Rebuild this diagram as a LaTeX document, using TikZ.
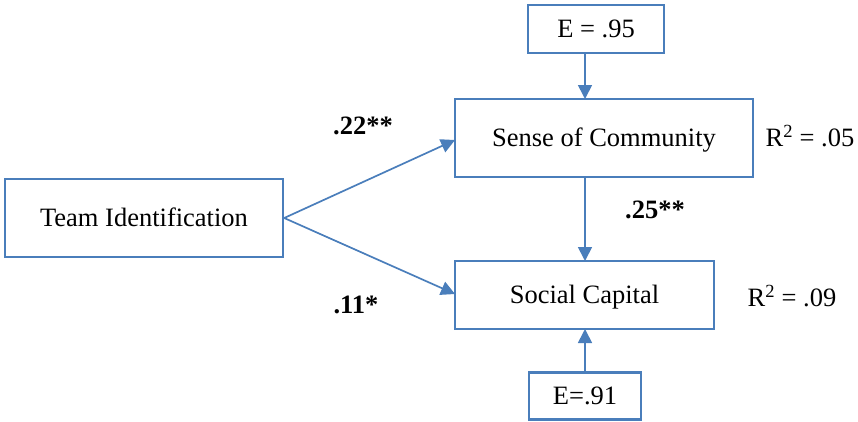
\documentclass[tikz,border=0pt]{standalone}
\usepackage{fontspec}
\setmainfont{Liberation Serif}
\usetikzlibrary{arrows.meta}
\definecolor{wblue}{HTML}{4A7EBB}
\tikzset{
  box/.style={draw=wblue, line width=2.4pt, rectangle, inner sep=0pt, text height=17.5pt, text depth=0pt, font=\fontsize{26.5}{30}\selectfont},
  link/.style={draw=wblue, line width=1.7pt, -{Triangle[length=14pt,width=14pt]}},
  coef/.style={inner sep=0pt, text height=17.5pt, text depth=0pt, font=\fontsize{26.5}{30}\selectfont\bfseries},
  rsq/.style={inner sep=0pt, text height=17.5pt, text depth=0pt, font=\fontsize{26.5}{30}\selectfont},
}
\begin{document}
\begin{tikzpicture}[x=1pt,y=-1pt]
\useasboundingbox (0,0) rectangle (858,421);
\node[box, minimum width=278pt, minimum height=78pt] (team) at (144,218) {Team Identification};
\node[box, minimum width=298pt, minimum height=78pt] (soc) at (604,138) {Sense of Community};
\node[box, minimum width=259pt, minimum height=68pt] (cap) at (584.5,295) {Social Capital};
\node[box, minimum width=136pt, minimum height=48pt] (e1) at (596,29) {E = .95};
\node[box, minimum width=112pt, minimum height=47pt] (e2) at (585,396) {E=.91};
\coordinate (e1s) at (585,53);
\coordinate (socn) at (585,99);
\coordinate (socs) at (585,177);
\coordinate (capn) at (585,261);
\coordinate (caps) at (585,329);
\coordinate (e2n) at (585,372);
\draw[link] (team.east) -- (455,140);
\draw[link] (team.east) -- (455,294);
\draw[link] (e1s) -- (socn);
\draw[link] (socs) -- (capn);
\draw[link] (e2n) -- (caps);
\node[coef] (c1) at (363,126) {.22**};
\node[coef] (c2) at (356,305) {.11*};
\node[coef] (c3) at (655,210) {.25**};
\node[rsq] (r1) at (810,138) {R\textsuperscript{2} = .05};
\node[rsq] (r2) at (792,298) {R\textsuperscript{2} = .09};
\end{tikzpicture}
\end{document}
